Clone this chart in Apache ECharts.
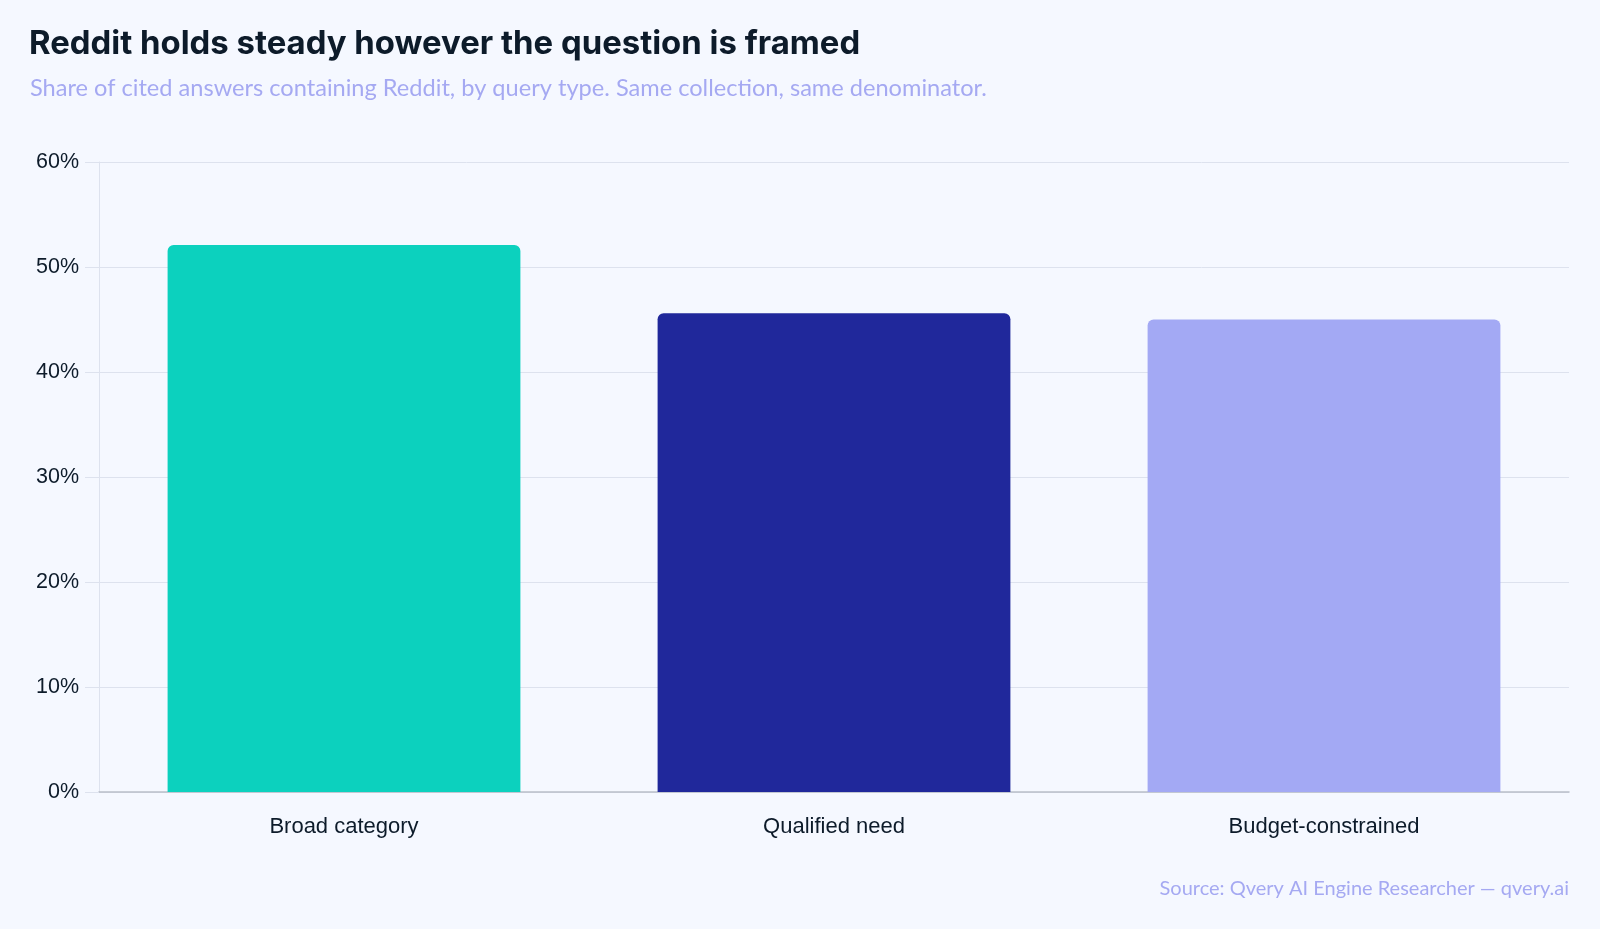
<!DOCTYPE html>
<html>
<head>
<meta charset="utf-8">
<title>Reddit share by query type</title>
<script src="https://cdn.jsdelivr.net/npm/echarts@6/dist/echarts.min.js"></script>
<style>
  html, body { margin: 0; padding: 0; background: #f5f8ff; }
  #chart { width: 1600px; height: 929px; }
</style>
</head>
<body>
<div id="chart"></div>
<script>
// data
var categories = ['Broad category', 'Qualified need', 'Budget-constrained'];
var shareValues = [52.1, 45.6, 45.0];
var barColors = ['#0cd1be', '#20289b', '#a3a9f4'];
var yTicks = [0, 10, 20, 30, 40, 50, 60];

var dom = document.getElementById('chart');
var myChart = echarts.init(dom);
var option = null;

option = {
    backgroundColor: '#f5f8ff',
    animation: false,
    title: [
        {
            text: 'Reddit holds steady however the question is framed',
            left: 29,
            top: 26,
            padding: 0,
            textStyle: {
                fontFamily: 'Inter',
                fontWeight: 700,
                fontSize: 32.9,
                lineHeight: 36,
                color: '#0d1b2a'
            }
        },
        {
            text: 'Share of cited answers containing Reddit, by query type. Same collection, same denominator.',
            left: 30,
            top: 74,
            padding: 0,
            textStyle: {
                fontFamily: 'Lato',
                fontWeight: 400,
                fontSize: 23.6,
                lineHeight: 28,
                color: '#a5a9f2'
            }
        },
        {
            text: 'Source: Qvery AI Engine Researcher \u2014 qvery.ai',
            right: 31,
            top: 877,
            padding: 0,
            textStyle: {
                fontFamily: 'Lato',
                fontWeight: 400,
                fontSize: 20,
                lineHeight: 24,
                color: '#a5a9f2'
            }
        }
    ],
    grid: {
        left: 99,
        right: 31,
        top: 162,
        bottom: 137
    },
    xAxis: {
        type: 'category',
        data: categories,
        axisLine: { lineStyle: { color: '#b9bec9', width: 1.5 } },
        axisTick: { show: false },
        axisLabel: {
            margin: 24,
            fontFamily: 'Liberation Sans',
            fontSize: 22,
            color: '#0d1b2a'
        }
    },
    yAxis: {
        type: 'value',
        min: yTicks[0],
        max: yTicks[yTicks.length - 1],
        interval: 10,
        axisLine: { show: true, lineStyle: { color: '#dde2ee', width: 1 } },
        axisTick: { show: true, length: 14, lineStyle: { color: '#dde2ee' } },
        splitLine: { lineStyle: { color: '#dde2ee', width: 1 } },
        axisLabel: {
            margin: 20,
            formatter: '{value}%',
            fontFamily: 'Liberation Sans',
            fontSize: 21.5,
            color: '#0d1b2a'
        }
    },
    series: [
        {
            type: 'bar',
            barCategoryGap: '28%',
            data: shareValues.map(function (v, i) {
                return {
                    value: v,
                    itemStyle: {
                        color: barColors[i],
                        borderRadius: [6, 6, 0, 0]
                    }
                };
            })
        }
    ]
};

if (option && typeof option === "object") {
    myChart.setOption(option, true);
}
</script>
</body>
</html>
